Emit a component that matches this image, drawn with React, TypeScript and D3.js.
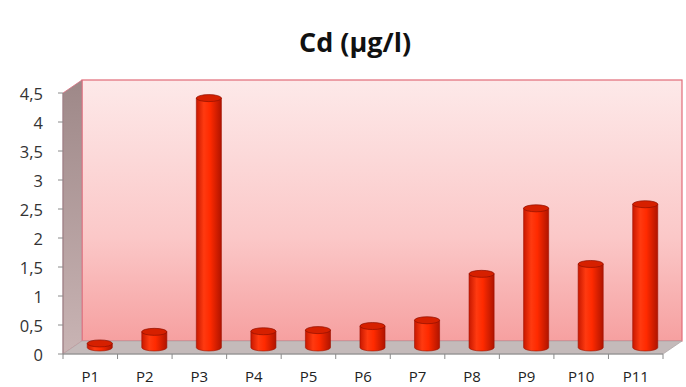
import React from "react";
import * as d3 from "d3";

const categories = ["P1", "P2", "P3", "P4", "P5", "P6", "P7", "P8", "P9", "P10", "P11"];
const values = [0.07, 0.27, 4.3, 0.28, 0.3, 0.37, 0.47, 1.27, 2.4, 1.44, 2.47];
const yTicks = [0, 0.5, 1, 1.5, 2, 2.5, 3, 3.5, 4, 4.5];
const title = "Cd (\u03bcg/l)";

const W = 686;
const H = 387;
const left = 63;
const right = 663;
const bottom = 354;
const top = 93;
const DX = 19;
const DY = -13;

export default function App() {
  const x = d3.scaleBand<string>().domain(categories).range([left, right]).padding(0);
  const y = d3.scaleLinear().domain([0, 4.5]).range([bottom, top]);
  const bw = x.bandwidth() * 0.46;
  const ry = 3.5;
  const fmt = (v: number) => String(v).replace(".", ",");

  return (
    <svg width={W} height={H} style={{ position: "absolute", left: 0, top: 0, background: "#fff" }}>
      <defs>
        <linearGradient id="wall" x1="0" y1="0" x2="0" y2="1">
          <stop offset="0" stopColor="#fde9e9" />
          <stop offset="0.6" stopColor="#fbc8c8" />
          <stop offset="1" stopColor="#f6a0a0" />
        </linearGradient>
        <linearGradient id="side" x1="0" y1="0" x2="0" y2="1">
          <stop offset="0" stopColor="#9e8888" />
          <stop offset="1" stopColor="#c9b4b4" />
        </linearGradient>
        <linearGradient id="bar" x1="0" y1="0" x2="1" y2="0">
          <stop offset="0" stopColor="#c81800" />
          <stop offset="0.3" stopColor="#ff3a10" />
          <stop offset="0.55" stopColor="#ff2a00" />
          <stop offset="1" stopColor="#b01400" />
        </linearGradient>
      </defs>
      <text x={355} y={52} textAnchor="middle" fontFamily="Open Sans, sans-serif" fontWeight="bold" fontSize={27} fill="#111">
        {title}
      </text>
      {/* back wall */}
      <rect x={left + DX} y={top + DY} width={right - left} height={bottom - top} fill="url(#wall)" stroke="#e26b78" strokeWidth={1.2} />
      {/* side wall */}
      <polygon
        points={`${left},${top} ${left + DX},${top + DY} ${left + DX},${bottom + DY} ${left},${bottom}`}
        fill="url(#side)"
        stroke="#d97080"
        strokeWidth={0.8}
      />
      {/* floor */}
      <polygon
        points={`${left},${bottom} ${left + DX},${bottom + DY} ${right + DX},${bottom + DY} ${right},${bottom}`}
        fill="#c4baba"
        stroke="#b0a8a8"
        strokeWidth={0.8}
      />
      {/* y axis */}
      <line x1={left} x2={left} y1={top} y2={bottom} stroke="#8a8a8a" />
      {yTicks.map((t) => (
        <g key={t}>
          <line x1={left - 5} x2={left} y1={y(t)} y2={y(t)} stroke="#8a8a8a" />
          <text x={43} y={y(t) + 7} textAnchor="end" fontFamily="Open Sans, sans-serif" fontSize={16.5} fill="#333">
            {fmt(t)}
          </text>
        </g>
      ))}
      {/* x axis */}
      <line x1={left} x2={right} y1={bottom} y2={bottom} stroke="#8a8a8a" />
      {categories.map((c, i) => (
        <line key={"t" + i} x1={x(c)!} x2={x(c)!} y1={bottom} y2={bottom + 5} stroke="#8a8a8a" />
      ))}
      <line x1={right} x2={right} y1={bottom} y2={bottom + 5} stroke="#8a8a8a" />
      {categories.map((c) => (
        <text key={"l" + c} x={x(c)! + x.bandwidth() / 2} y={382} textAnchor="middle" fontFamily="Open Sans, sans-serif" fontSize={15} fill="#222">
          {c}
        </text>
      ))}
      {/* bars */}
      {categories.map((c, i) => {
        const cx = x(c)! + x.bandwidth() / 2 + DX / 2;
        const y0 = y(0) + DY / 2;
        const y1 = y(values[i]) + DY / 2;
        const l = cx - bw / 2;
        const r = cx + bw / 2;
        const path = `M${l},${y1} L${l},${y0} A${bw / 2},${ry} 0 0 0 ${r},${y0} L${r},${y1} Z`;
        return (
          <g key={"b" + c}>
            <path d={path} fill="url(#bar)" stroke="#a01000" strokeWidth={0.6} />
            <ellipse cx={cx} cy={y1} rx={bw / 2} ry={ry} fill="#d62000" stroke="#8e1000" strokeWidth={0.7} />
          </g>
        );
      })}
    </svg>
  );
}
